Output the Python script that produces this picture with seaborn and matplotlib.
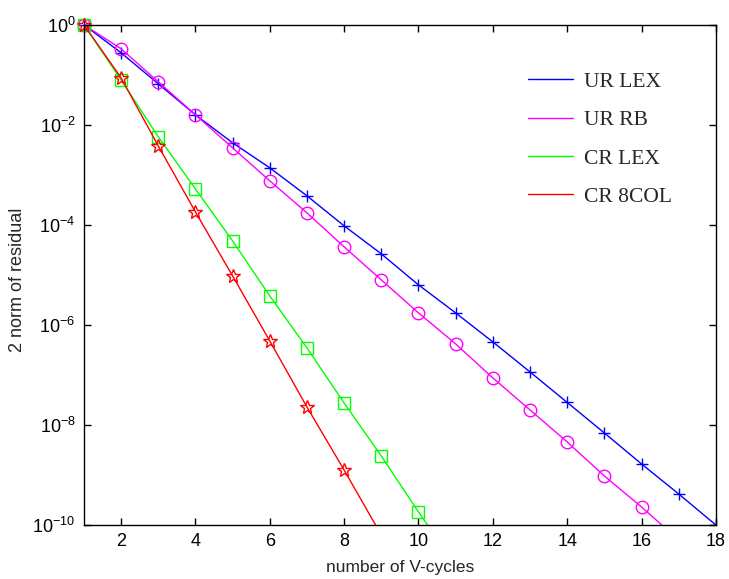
import numpy as np
import pandas as pd
import matplotlib
matplotlib.use("Agg")
import matplotlib.pyplot as plt
import seaborn as sns
from matplotlib.ticker import LogLocator, LogFormatterMathtext, NullLocator

# log10 of the residual norm
cycles_ur_lex = list(range(1, 19))
log_ur_lex = [0, -0.56, -1.18, -1.8, -2.36, -2.86, -3.42, -4.02, -4.58, -5.2,
              -5.76, -6.34, -6.94, -7.55, -8.16, -8.78, -9.38, -10.0]

cycles_ur_rb = list(range(1, 18))
log_ur_rb = [0, -0.48, -1.14, -1.8, -2.46, -3.12, -3.76, -4.44, -5.1, -5.76,
             -6.38, -7.06, -7.7, -8.34, -9.02, -9.64, -10.3]

cycles_cr_lex = list(range(1, 12))
log_cr_lex = [0, -1.1, -2.24, -3.28, -4.32, -5.42, -6.46, -7.56, -8.62, -9.74, -10.8]

cycles_cr_8col = list(range(1, 10))
log_cr_8col = [0, -1.06, -2.42, -3.74, -5.02, -6.32, -7.64, -8.9, -10.2]

series = [
    ("UR LEX", cycles_ur_lex, log_ur_lex, "#0000ff", "+"),
    ("UR RB", cycles_ur_rb, log_ur_rb, "#ff00ff", "o"),
    ("CR LEX", cycles_cr_lex, log_cr_lex, "#00ff00", "s"),
    ("CR 8COL", cycles_cr_8col, log_cr_8col, "#ff0000", "*"),
]

sns.set_theme(style="ticks")
plt.rcParams["font.family"] = ["Liberation Sans", "DejaVu Sans"]
plt.rcParams["mathtext.default"] = "regular"
plt.rcParams["axes.unicode_minus"] = False

fig = plt.figure(figsize=(7.29, 5.79), dpi=100)
ax = fig.add_axes([0.115, 0.0933, 0.867, 0.864])

for name, xs, ys, color, mk in series:
    df = pd.DataFrame({"cycles": xs, "resid": 10.0 ** np.array(ys)})
    ms = 10 if mk == "*" else 9
    sns.lineplot(data=df, x="cycles", y="resid", ax=ax, color=color, linewidth=1.0,
                 marker=mk, markersize=ms,
                 markerfacecolor="none", markeredgecolor=color,
                 markeredgewidth=1.0, label=name)
    # first point sits on the corner: let its marker overhang the axes
    ax.plot(df["cycles"][:1], df["resid"][:1], linestyle="none", marker=mk,
            markersize=ms, markerfacecolor="none", markeredgecolor=color,
            markeredgewidth=1.0, clip_on=False)

ax.set_yscale("log")
ax.set_xlim(1, 18)
ax.set_ylim(1e-10, 1)
ax.set_xticks(range(2, 19, 2))
ax.yaxis.set_major_locator(LogLocator(base=100.0))
ax.yaxis.set_major_formatter(LogFormatterMathtext(base=10.0))
ax.yaxis.set_minor_locator(NullLocator())
ax.tick_params(axis="both", which="both", direction="in", top=True, right=True,
               length=5, width=1, labelsize=13, colors="black")
ax.tick_params(axis="x", pad=6)
ax.tick_params(axis="y", pad=6)
for sp in ax.spines.values():
    sp.set_color("black")
    sp.set_linewidth(1.0)

ax.set_xlabel("number of V-cycles", fontsize=12.5)
ax.set_ylabel("2 norm of residual", fontsize=13)
ax.xaxis.set_label_coords(0.5, -0.07)
ax.yaxis.set_label_coords(-0.092, 0.49)

leg = ax.legend(loc="upper left", bbox_to_anchor=(0.724, 0.876),
                bbox_transform=fig.transFigure, frameon=False,
                prop={"family": "Liberation Serif", "size": 15.5},
                handlelength=2.1, handletextpad=0.5, labelspacing=0.85,
                borderpad=0, borderaxespad=0)
for h in leg.get_lines():
    h.set_marker("")

fig.savefig("out.png", dpi=100, facecolor="white")
